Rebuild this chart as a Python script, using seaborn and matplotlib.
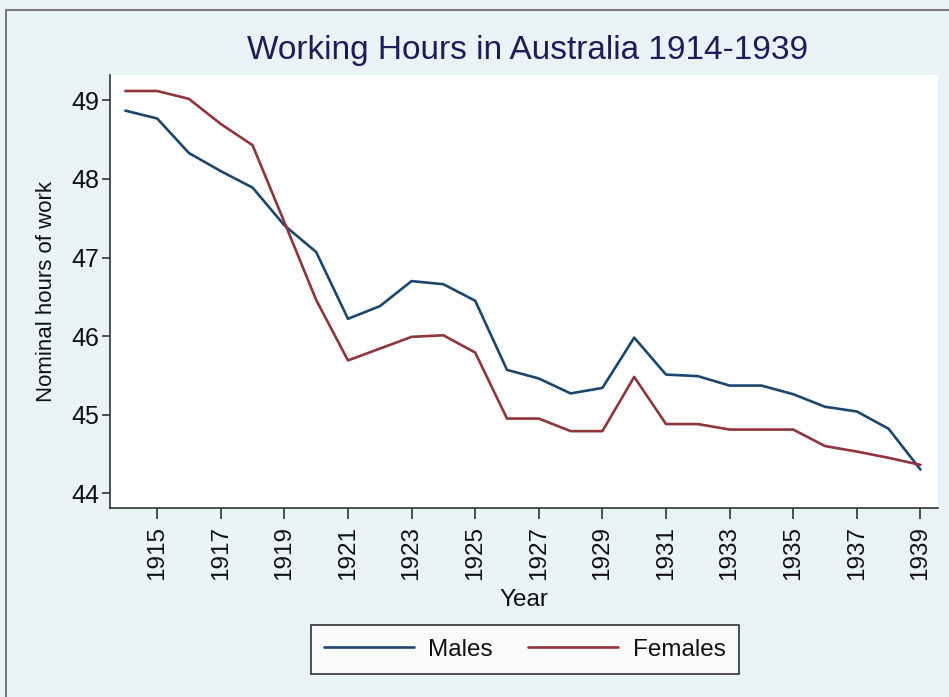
import pandas as pd
import matplotlib.pyplot as plt
import seaborn as sns
from matplotlib.patches import Rectangle

# =========================
# Dados
# =========================
anos = list(range(1914, 1940))
homens = [48.87, 48.77, 48.33, 48.10, 47.89, 47.41, 47.07, 46.22, 46.38, 46.70,
          46.66, 46.45, 45.57, 45.46, 45.27, 45.34, 45.98, 45.51, 45.49, 45.37,
          45.37, 45.26, 45.10, 45.04, 44.82, 44.30]
mulheres = [49.12, 49.12, 49.02, 48.70, 48.43, 47.45, 46.46, 45.69, 45.84, 45.99,
            46.01, 45.79, 44.95, 44.95, 44.79, 44.79, 45.48, 44.88, 44.88, 44.81,
            44.81, 44.81, 44.60, 44.53, 44.45, 44.36]
rotulos_x = list(range(1915, 1940, 2))
rotulos_y = [44, 45, 46, 47, 48, 49]

df = pd.DataFrame({
    'Year': anos * 2,
    'Hours': homens + mulheres,
    'Sex': ['Males'] * len(anos) + ['Females'] * len(anos),
})

# =========================
# Estilo
# =========================
sns.set_style('white')
plt.rcParams['font.family'] = ['Liberation Sans', 'DejaVu Sans']
plt.rcParams['text.color'] = '#111111'
plt.rcParams['axes.labelcolor'] = '#111111'

fundo = '#eaf3f5'
fig = plt.figure(figsize=(9.49, 6.97), dpi=100, facecolor=fundo)
ax = fig.add_axes([0.116, 0.271, 0.872, 0.621])
ax.set_facecolor('white')

# moldura externa (topo e esquerda)
fig.patches.append(Rectangle((6 / 949, -0.1), 1.2, 1 - 10 / 697 + 0.1,
                             transform=fig.transFigure, fill=False,
                             edgecolor='#7a7a7a', linewidth=1.5))

sns.lineplot(data=df, x='Year', y='Hours', hue='Sex',
             palette={'Males': '#1a476f', 'Females': '#90353b'},
             linewidth=1.9, ax=ax, legend=False)

ax.set_xlim(1913.52, 1939.54)
ax.set_ylim(43.81, 49.32)
ax.set_xticks(rotulos_x)
ax.set_xticklabels([str(a) for a in rotulos_x], rotation=90, fontsize=17.5, color='#111111')
ax.set_yticks(rotulos_y)
ax.set_yticklabels([str(v) for v in rotulos_y], fontsize=18, color='#111111')
ax.tick_params(axis='x', direction='out', length=8, width=1.2, color='#333333', pad=5, bottom=True)
ax.tick_params(axis='y', direction='out', length=6, width=1.2, color='#333333', pad=2, left=True)

for lado in ['top', 'right']:
    ax.spines[lado].set_visible(False)
for lado in ['left', 'bottom']:
    ax.spines[lado].set_color('#333333')
    ax.spines[lado].set_linewidth(1.2)

ax.set_xlabel('Year', fontsize=17.5, labelpad=6)
ax.set_ylabel('Nominal hours of work', fontsize=16, labelpad=10)
fig.text(0.556, 0.928, 'Working Hours in Australia 1914-1939', ha='center', va='center',
         fontsize=24, color='#1c1c5c')

# =========================
# Legenda
# =========================
h1, = ax.plot([], [], color='#1a476f', linewidth=1.9, label='Males')
h2, = ax.plot([], [], color='#90353b', linewidth=1.9, label='Females')
leg = fig.legend(handles=[h1, h2], loc='center', bbox_to_anchor=(0.553, 0.068),
                 ncol=2, fontsize=17.5, frameon=True, fancybox=False,
                 handlelength=3.7, handletextpad=0.6, columnspacing=1.45, borderpad=0.55)
leg.get_frame().set_edgecolor('black')
leg.get_frame().set_linewidth(1.2)
leg.get_frame().set_facecolor('white')

plt.savefig('out.png', dpi=100, facecolor=fundo)
